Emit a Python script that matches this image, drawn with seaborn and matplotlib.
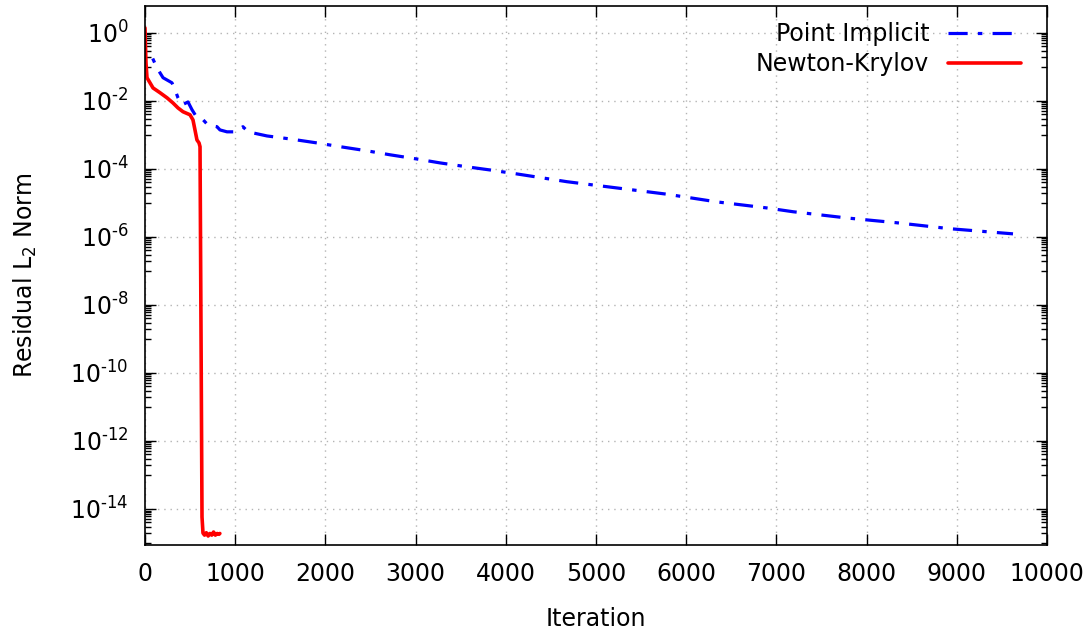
import numpy as np
import pandas as pd
import matplotlib
matplotlib.use("Agg")
import matplotlib.pyplot as plt
import matplotlib.ticker as mticker
import seaborn as sns

# Convergence history: residual L2 norm vs. iteration
point_implicit_iter = [0, 5, 78, 133, 200, 299, 333, 366, 410, 477, 521, 576, 643,
                       698, 798, 831, 909, 998, 1086, 1142, 1353, 1608, 1907, 2162,
                       2461, 2716, 3016, 3271, 3570, 3825, 4124, 4678, 5233, 5787,
                       6341, 6896, 7184, 7783, 8337, 8925, 9479, 9623]
point_implicit_res = [1.0, 0.26, 0.195, 0.093, 0.048, 0.034, 0.021, 0.0123, 0.0076,
                      0.0093, 0.0055, 0.0032, 0.0028, 0.00195, 0.00174, 0.0014,
                      0.00123, 0.00123, 0.00174, 0.00123, 9.3e-4, 7.6e-4, 5.8e-4,
                      4.5e-4, 3.4e-4, 2.6e-4, 1.95e-4, 1.5e-4, 1.15e-4, 9.3e-5,
                      7.1e-5, 4.2e-5, 2.75e-5, 1.8e-5, 1.07e-5, 7.1e-6, 5.5e-6,
                      3.6e-6, 2.6e-6, 1.74e-6, 1.32e-6, 1.23e-6]

newton_krylov_iter = [0, 5, 11, 22, 89, 166, 244, 310, 366, 421, 499, 532, 554, 576,
                      599, 610, 632, 643, 660, 680, 700, 720, 740, 760, 780, 800,
                      820, 830]
newton_krylov_res = [1.4, 0.45, 0.13, 0.048, 0.024, 0.0174, 0.0123, 0.0087, 0.0062,
                     0.0048, 0.0039, 0.00275, 0.0014, 7.1e-4, 5.8e-4, 4.5e-4,
                     5.8e-15, 1.95e-15, 1.7e-15, 2.0e-15, 1.6e-15, 1.9e-15, 1.7e-15,
                     2.1e-15, 1.7e-15, 1.9e-15, 1.8e-15, 1.9e-15]

series_labels = ["Point Implicit", "Newton-Krylov"]
x_ticks = [0, 1000, 2000, 3000, 4000, 5000, 6000, 7000, 8000, 9000, 10000]
y_major_exps = [0, -2, -4, -6, -8, -10, -12, -14]

sns.set_theme(style="white")
plt.rcParams["font.family"] = ["DejaVu Sans"]
plt.rcParams["mathtext.default"] = "regular"
plt.rcParams["text.color"] = "black"
plt.rcParams["axes.labelcolor"] = "black"

pi_df = pd.DataFrame({"Iteration": point_implicit_iter, "Residual": point_implicit_res})
nk_df = pd.DataFrame({"Iteration": newton_krylov_iter, "Residual": newton_krylov_res})

fig = plt.figure(figsize=(10.9, 6.37), dpi=100)
ax = fig.add_axes([145 / 1090, 1 - 545 / 637, (1047 - 145) / 1090, (545 - 6) / 637])

sns.lineplot(data=pi_df, x="Iteration", y="Residual", ax=ax, sort=False,
             estimator=None, color="#0000ff", linewidth=2.3,
             linestyle=(0, (6, 3.2, 1.4, 3.2)), label=series_labels[0])
sns.lineplot(data=nk_df, x="Iteration", y="Residual", ax=ax, sort=False,
             estimator=None, color="#ff0000", linewidth=2.6,
             label=series_labels[1])

ax.set_yscale("log")
ax.set_xlim(0, 10000)
ax.set_ylim(10 ** -15.06, 10 ** 0.79)

ax.xaxis.set_major_locator(mticker.FixedLocator(x_ticks))
ax.xaxis.set_minor_locator(mticker.NullLocator())
ax.yaxis.set_major_locator(mticker.FixedLocator([10.0 ** e for e in y_major_exps]))
minor_vals = [k * 10.0 ** (e - 1) for e in y_major_exps + [-16] for k in range(1, 10)]
ax.yaxis.set_minor_locator(mticker.FixedLocator(minor_vals))
ax.yaxis.set_major_formatter(mticker.FuncFormatter(
    lambda v, p: r"10$^{\text{%d}}$" % round(np.log10(v))))
ax.yaxis.set_minor_formatter(mticker.NullFormatter())

ax.tick_params(axis="both", which="both", direction="in", left=True, bottom=True,
               top=True, right=True, colors="black", labelcolor="black")
ax.tick_params(axis="both", which="major", length=8, width=1)
ax.tick_params(axis="y", which="minor", length=4, width=1)
ax.tick_params(axis="y", which="major", labelsize=17, pad=12)
ax.tick_params(axis="x", which="major", labelsize=17, pad=12)

for sp in ax.spines.values():
    sp.set_color("black")
    sp.set_linewidth(1.2)

ax.grid(True, which="major", color="#b4b4b4", linestyle=(0, (1, 3.5)), linewidth=1)

ax.set_xlabel("Iteration", fontsize=17, labelpad=15)
ax.set_ylabel(r"Residual L$_2$ Norm", fontsize=17)
ax.yaxis.set_label_coords(-0.118, 0.5)

leg = ax.legend(loc="upper right", bbox_to_anchor=(0.982, 0.988), frameon=False,
                markerfirst=False, fontsize=17, handlelength=3.1, handletextpad=0.8,
                borderaxespad=0.0, labelspacing=0.25)

fig.savefig("out.png", dpi=100)
